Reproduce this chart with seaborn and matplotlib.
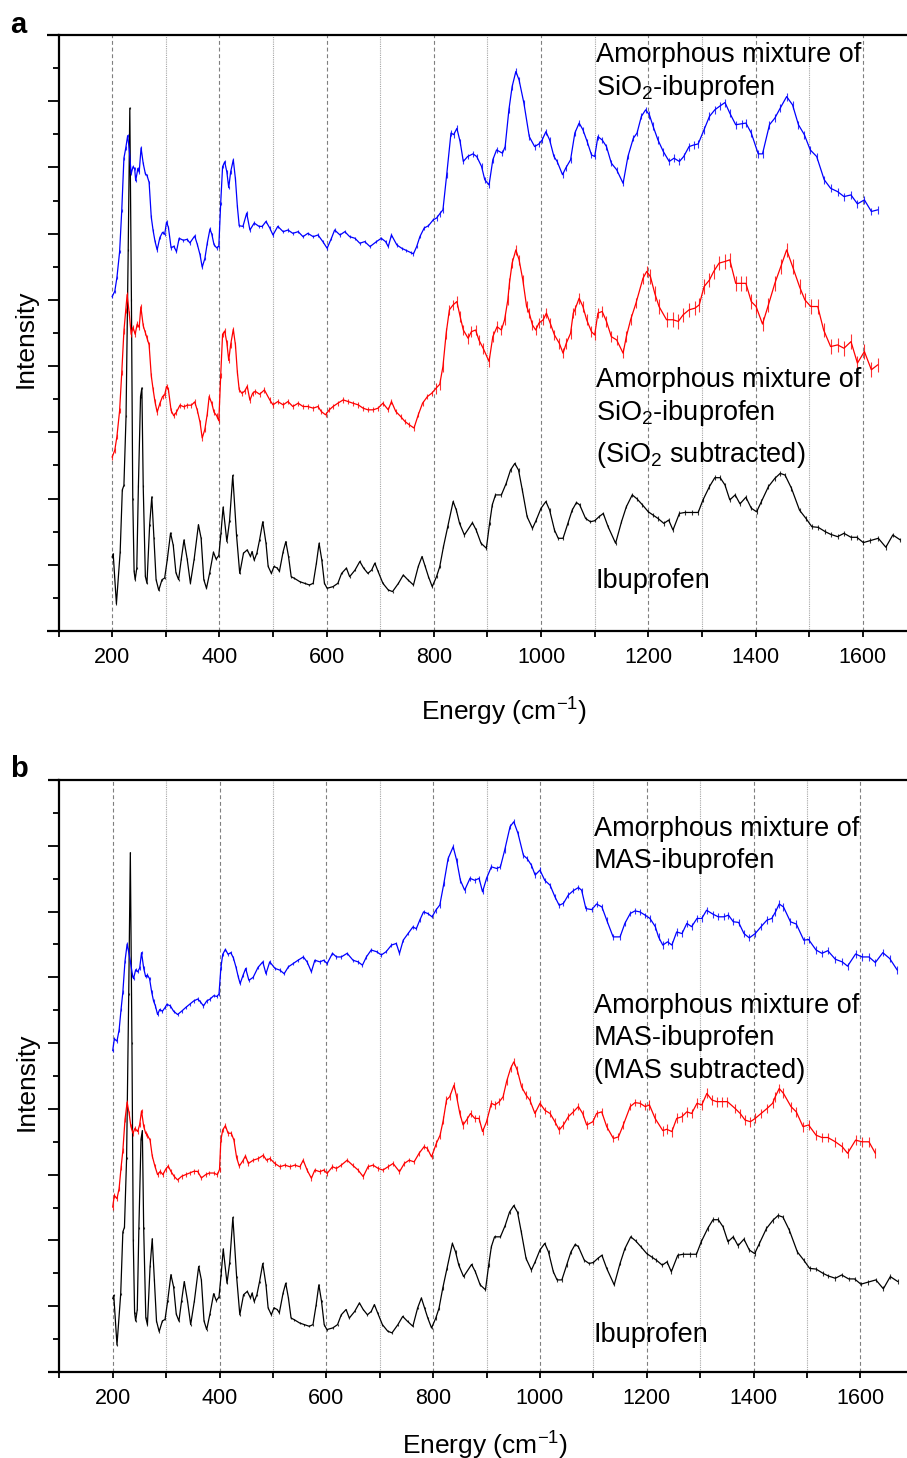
import numpy as np
import matplotlib
matplotlib.use("Agg")
import matplotlib.pyplot as plt
from matplotlib.ticker import MultipleLocator, NullFormatter
import seaborn as sns

# ---- data (energy in cm^-1, intensity in plot units, curves already stacked) ----
ibu_energy = [200, 202, 208, 215, 219, 222, 226, 230, 233, 236, 238.5, 241, 243, 246, 249, 253, 255.5, 258, 262, 265,
              270, 274, 278, 282, 287, 293, 298, 303, 309, 314, 319, 324, 329, 334, 340, 346, 353, 361, 366, 371,
              376, 382, 389, 394, 399, 403, 407, 414, 419, 425, 432, 438, 445, 452, 458, 461, 465, 470, 475, 481,
              487, 491, 497, 502, 508, 512, 519, 524, 529, 534, 540, 550, 559, 568, 575, 581, 586, 591, 596, 601,
              612, 621, 628, 637, 643, 653, 662, 669, 677, 684, 690, 696, 705, 715, 723, 734, 743, 752, 762, 771,
              778, 784, 790, 797, 805, 811, 818, 826, 836, 842, 848, 857, 872, 879, 888, 898, 904, 909, 915, 926,
              935, 943, 951, 958, 965, 974, 984, 991, 1000, 1009, 1016, 1025, 1032, 1041, 1050, 1058, 1066, 1072,
              1083, 1092, 1100, 1108, 1116, 1125, 1139, 1150, 1159, 1170, 1179, 1189, 1200, 1209, 1218, 1229, 1238,
              1246, 1258, 1268, 1281, 1293, 1302, 1314, 1324, 1334, 1343, 1352, 1362, 1371, 1382, 1392, 1402, 1411,
              1424, 1436, 1446, 1455, 1467, 1482, 1494, 1505, 1517, 1530, 1540, 1553, 1565, 1578, 1589, 1601, 1614,
              1629, 1643, 1656, 1670]
ibu_intensity = [2.23, 2.33, 0.82, 2.38, 4.26, 4.4, 6.5, 11.5, 15.79, 10.0, 4.0, 1.8, 1.55, 1.9, 4.37, 7.08, 7.34, 4.37,
                 1.65, 1.44, 3.21, 4.05, 2.80, 1.55, 1.23, 1.55, 1.60, 2.17, 2.96, 2.59, 1.76, 1.55, 2.17, 2.75, 2.17,
                 1.44, 2.17, 3.21, 2.80, 1.55, 1.29, 1.76, 2.38, 2.17, 2.28, 2.96, 3.74, 2.70, 3.32, 4.70, 2.90, 1.74,
                 2.35, 2.45, 2.25, 2.40, 2.14, 2.35, 2.75, 3.30, 2.65, 1.95, 1.74, 1.95, 1.90, 1.80, 2.40, 2.70, 2.25,
                 1.64, 1.59, 1.49, 1.44, 1.39, 1.44, 2.05, 2.65, 2.15, 1.44, 1.29, 1.34, 1.44, 1.74, 1.90, 1.64, 1.84,
                 2.10, 1.90, 1.74, 1.84, 2.05, 1.80, 1.44, 1.24, 1.19, 1.44, 1.69, 1.54, 1.39, 1.95, 2.25, 1.95, 1.64,
                 1.34, 1.64, 1.94, 2.55, 3.15, 3.91, 3.65, 3.25, 2.90, 3.27, 3.05, 2.65, 2.50, 3.25, 3.81, 4.11, 4.11,
                 4.46, 4.86, 5.06, 4.86, 4.26, 3.45, 3.10, 3.35, 3.71, 3.91, 3.65, 3.05, 2.80, 2.80, 3.25, 3.65, 3.88,
                 3.81, 3.40, 3.30, 3.33, 3.45, 3.55, 3.15, 2.65, 3.30, 3.75, 4.11, 3.99, 3.81, 3.60, 3.50, 3.40, 3.25,
                 3.35, 3.05, 3.55, 3.58, 3.58, 3.58, 3.96, 4.36, 4.63, 4.63, 4.41, 3.96, 4.11, 3.84, 4.04, 3.71, 3.60,
                 3.91, 4.36, 4.61, 4.76, 4.71, 4.31, 3.65, 3.40, 3.15, 3.13, 3.00, 2.92, 2.85, 2.95, 2.83, 2.83, 2.67,
                 2.73, 2.80, 2.53, 2.90, 2.75]

sio2_energy = [200, 205, 209, 214, 218, 222, 225.5, 229, 232, 235.5, 239, 242, 244, 248, 250.5, 254, 258, 262, 265, 269,
               273, 276.5, 280, 284, 289, 294, 298, 301.5, 305, 310, 315, 320, 325, 333, 340, 345, 354, 359, 364, 368,
               373, 377.5, 382.5, 386, 390, 395, 399, 402.5, 406, 410, 414, 417.5, 421, 426, 430, 433.6, 437, 444,
               451, 457, 465, 474, 480, 487, 494, 500, 509, 519, 528, 537, 547, 556, 565, 575, 584, 593, 601, 609,
               615, 625, 634, 643, 653, 662, 671, 681, 693, 702, 710, 715, 721, 731, 740, 749, 757, 762, 768, 774,
               782, 790, 799, 805, 811, 817, 824, 832, 837, 843, 849, 855, 863, 873, 880, 889, 895, 903, 910, 917,
               928, 933, 940, 946, 953, 959, 968, 978, 988, 996, 1002, 1009, 1016, 1024, 1030, 1040, 1046, 1055,
               1063, 1071, 1078, 1086, 1094, 1100, 1106, 1114, 1122, 1131, 1141, 1153, 1162, 1172, 1179, 1187, 1195,
               1202, 1209, 1218, 1228, 1239, 1248, 1258, 1266, 1276, 1285, 1293, 1304, 1314, 1324, 1334, 1343, 1352,
               1363, 1374, 1382, 1392, 1405, 1413, 1426, 1436, 1446, 1458, 1469, 1480, 1491, 1502, 1514, 1528, 1540,
               1553, 1565, 1578, 1590, 1603, 1616, 1628]
sio2_mix = [10.10, 10.26, 10.68, 11.46, 12.71, 14.28, 14.59, 14.96, 14.54, 13.81, 14.02, 13.97, 13.60, 13.97, 13.86,
            14.59, 14.12, 13.81, 13.76, 13.55, 12.50, 12.09, 11.77, 11.51, 11.88, 12.04, 11.98, 12.35, 12.19, 11.57,
            11.62, 11.46, 11.86, 11.80, 11.83, 11.72, 11.93, 11.67, 11.36, 10.99, 11.25, 11.72, 12.14, 11.98, 11.67,
            11.57, 11.62, 12.92, 14.02, 14.17, 13.86, 13.39, 13.86, 14.23, 13.65, 12.82, 12.24, 12.22, 12.62, 12.11,
            12.32, 12.22, 12.22, 12.37, 12.17, 11.96, 12.22, 12.06, 12.11, 12.01, 12.06, 11.91, 12.01, 11.91, 11.96,
            11.76, 11.56, 11.86, 12.11, 11.96, 12.06, 11.91, 11.86, 11.71, 11.76, 11.61, 11.76, 11.86, 11.76, 11.61,
            11.96, 11.66, 11.56, 11.49, 11.43, 11.39, 11.61, 11.91, 12.17, 12.24, 12.42, 12.47, 12.60, 12.72, 13.78,
            15.04, 14.99, 15.18, 14.78, 14.18, 14.33, 14.41, 14.33, 14.03, 13.63, 13.47, 14.23, 14.53, 14.43, 14.63,
            15.74, 16.44, 16.90, 16.64, 15.94, 14.93, 14.63, 14.71, 14.83, 15.08, 14.83, 14.33, 14.18, 13.78, 13.98,
            14.23, 15.04, 15.34, 15.14, 14.78, 14.38, 14.33, 14.93, 14.83, 14.63, 14.13, 13.93, 13.52, 14.33, 14.88,
            15.04, 15.54, 15.74, 15.59, 15.24, 14.83, 14.48, 14.18, 14.28, 14.18, 14.33, 14.63, 14.68, 14.71, 15.14,
            15.54, 15.74, 15.86, 15.96, 15.64, 15.29, 15.32, 15.34, 15.04, 14.41, 14.41, 15.29, 15.49, 15.79, 16.14,
            15.89, 15.29, 14.99, 14.53, 14.33, 13.63, 13.37, 13.27, 13.12, 13.17, 12.90, 13.02, 12.67, 12.72]

sio2_sub_energy = [200, 205, 209, 214, 218, 222, 225.5, 228, 232, 235.5, 239, 243, 246.7, 250.5, 253.6, 258, 262, 265,
                   269, 273, 276.5, 280, 284, 289, 294, 298, 301.5, 305, 310, 315, 320, 326.5, 334, 340, 348, 354, 359,
                   364, 368, 373, 377.5, 381, 386, 390, 395, 399, 402.5, 406, 410, 414, 417.5, 421, 426, 430, 433.6,
                   437, 442, 447, 452, 457, 462, 467, 475, 484, 494, 500, 509, 519, 528, 537, 547, 556, 565, 575, 584,
                   590, 598, 605, 612, 621, 631, 640, 649, 659, 668, 677, 687, 696, 705, 715, 721, 729, 738, 746, 754,
                   763, 771, 779, 788, 796, 804, 811, 817, 823, 829, 836, 843, 849, 855, 864, 870, 878, 884, 892, 903,
                   910, 918, 926, 932, 938, 941, 946, 953, 959, 966, 973, 978, 984, 990, 996, 1004, 1010, 1017, 1025,
                   1034, 1041, 1047, 1055, 1060, 1063, 1071, 1078, 1085, 1094, 1100, 1106, 1114, 1122, 1131, 1141,
                   1153, 1159, 1167, 1177, 1190, 1197, 1204, 1212, 1220, 1234, 1246, 1256, 1265, 1276, 1287, 1295,
                   1304, 1314, 1322, 1332, 1343, 1352, 1363, 1373, 1382, 1392, 1401, 1413, 1424, 1436, 1447, 1458,
                   1469, 1482, 1492, 1503, 1516, 1527, 1540, 1553, 1565, 1578, 1590, 1603, 1616, 1628]
sio2_sub = [5.25, 5.46, 5.88, 6.66, 7.81, 9.06, 9.69, 10.16, 9.58, 8.96, 9.17, 8.96, 9.27, 9.17, 9.79, 9.22, 9.01, 8.85,
            8.64, 7.71, 7.29, 6.92, 6.61, 6.87, 7.08, 7.13, 7.39, 7.29, 6.66, 6.50, 6.61, 6.82, 6.77, 6.82, 6.82, 6.92,
            6.66, 6.30, 5.83, 6.09, 6.56, 7.08, 6.87, 6.61, 6.50, 6.35, 7.71, 8.96, 9.06, 8.70, 8.17, 8.64, 9.11, 8.64,
            7.81, 7.29, 7.18, 7.24, 7.39, 6.97, 7.18, 7.24, 7.15, 7.28, 6.98, 6.83, 6.93, 6.83, 6.93, 6.78, 6.88, 6.78,
            6.78, 6.73, 6.78, 6.63, 6.53, 6.68, 6.78, 6.88, 6.98, 6.93, 6.88, 6.83, 6.73, 6.68, 6.68, 6.73, 6.88, 6.68,
            6.93, 6.63, 6.48, 6.33, 6.23, 6.13, 6.53, 6.88, 7.08, 7.18, 7.33, 7.45, 7.99, 8.99, 9.70, 9.85, 9.95, 9.50,
            9.09, 8.84, 9.04, 9.09, 8.79, 8.54, 8.14, 8.89, 9.19, 9.09, 9.40, 10.0, 10.50, 11.11, 11.51, 11.21, 10.60,
            9.80, 9.60, 9.24, 9.09, 9.30, 9.40, 9.60, 9.30, 8.94, 8.69, 8.39, 8.69, 8.99, 9.60, 9.70, 10.05, 9.80,
            9.40, 9.04, 8.94, 9.60, 9.65, 9.35, 8.89, 8.79, 8.39, 8.89, 9.40, 9.90, 10.65, 10.86, 10.70, 10.20, 9.80,
            9.40, 9.40, 9.35, 9.55, 9.70, 9.75, 9.85, 10.40, 10.60, 10.86, 11.11, 11.16, 11.21, 10.50, 10.50, 10.50,
            9.95, 9.80, 9.27, 9.85, 10.50, 11.00, 11.51, 11.01, 10.40, 10.00, 9.80, 9.80, 9.09, 8.59, 8.64, 8.54, 8.74,
            8.09, 8.44, 7.89, 8.04]

mas_energy = [200, 203, 208, 212, 215.6, 219, 223, 227, 229, 233, 237, 239, 243, 246.7, 250.5, 254, 258, 261.7, 265,
              269, 273, 276.5, 280, 284, 288, 293, 298, 301.5, 308, 314, 321.5, 329, 336.5, 344, 351.5, 359, 364, 370,
              376, 382.5, 389, 395, 399, 402.5, 406, 411, 416, 421, 426, 431, 435, 438.6, 444, 449, 455, 463, 472,
              481, 487, 494, 504, 513, 521, 529, 538, 547, 557, 564, 572, 578.5, 588, 595, 601.5, 611.5, 619, 628,
              639, 650, 659.5, 667.6, 675, 684, 694, 703, 712, 722, 731, 737, 744, 753, 762, 768.5, 775, 782, 790,
              798, 805, 812.5, 820, 828, 837.5, 844, 851, 859, 869, 878, 886, 892.5, 900, 909, 919, 926, 934, 944,
              951, 959, 969, 976, 984, 991, 1000, 1009, 1019, 1028, 1036, 1044, 1053, 1062, 1072, 1078, 1086, 1097,
              1106, 1116, 1125, 1137, 1150, 1159, 1169, 1178, 1187, 1197, 1206, 1216, 1222, 1230, 1239, 1247, 1256,
              1266, 1275, 1284, 1294, 1303, 1312, 1324, 1334, 1344, 1353, 1362, 1372, 1382, 1392, 1403, 1414, 1425,
              1434, 1441, 1448, 1456, 1469, 1480, 1494, 1503, 1517, 1528, 1539, 1553, 1566, 1576, 1591, 1603, 1616,
              1628, 1642, 1655, 1669]
mas_mix = [9.77, 10.13, 10.06, 10.40, 11.02, 11.55, 12.49, 13.01, 12.85, 12.49, 12.07, 11.96, 12.23, 12.17, 12.28, 12.75,
           12.28, 12.02, 12.07, 11.96, 11.55, 11.28, 11.13, 10.87, 11.02, 10.97, 11.08, 11.18, 11.13, 10.97, 10.87,
           10.97, 11.08, 11.18, 11.28, 11.34, 11.26, 11.13, 11.28, 11.34, 11.44, 11.42, 11.49, 12.28, 12.70, 12.85,
           12.70, 12.75, 12.59, 12.30, 12.02, 11.81, 12.06, 12.27, 11.91, 12.00, 12.30, 12.47, 12.11, 12.47, 12.27,
           12.22, 12.11, 12.32, 12.42, 12.52, 12.62, 12.47, 12.17, 12.52, 12.47, 12.52, 12.42, 12.73, 12.62, 12.62,
           12.73, 12.52, 12.47, 12.37, 12.62, 12.83, 12.78, 12.68, 12.78, 12.98, 13.03, 12.73, 13.13, 13.33, 13.53,
           13.48, 13.74, 13.99, 13.94, 13.84, 14.04, 14.20, 14.85, 15.61, 15.97, 15.56, 14.95, 14.65, 15.01, 14.95,
           15.01, 14.60, 15.01, 15.36, 15.31, 15.36, 15.87, 16.58, 16.73, 16.37, 15.71, 15.61, 15.41, 15.11, 15.26,
           14.95, 14.80, 14.45, 14.19, 14.25, 14.50, 14.63, 14.73, 14.65, 14.09, 14.06, 14.23, 14.14, 13.74, 13.23,
           13.23, 13.64, 13.94, 14.02, 13.99, 13.89, 13.79, 13.54, 13.23, 12.98, 13.08, 12.98, 13.38, 13.33, 13.64,
           13.54, 13.79, 13.79, 14.04, 13.92, 13.84, 13.84, 13.89, 13.69, 13.67, 13.33, 13.20, 13.33, 13.54, 13.74,
           13.79, 13.99, 14.23, 14.14, 13.69, 13.62, 13.13, 13.15, 12.83, 12.73, 12.81, 12.55, 12.47, 12.34, 12.71,
           12.62, 12.62, 12.45, 12.75, 12.57, 12.22]

mas_sub_energy = [200, 203, 208, 212, 215.6, 219, 223, 227, 230.6, 234, 238, 241.7, 246.7, 250.5, 254, 258, 261.7, 265,
                  270, 274, 279, 284, 289, 294, 299, 304, 309, 315, 321.5, 329, 336.5, 344, 351.5, 359, 366, 374, 381,
                  389, 396, 400, 402.5, 406, 411, 416, 422, 427, 432, 437, 443.6, 448.6, 454, 463, 472.6, 482, 488,
                  494.4, 503.7, 513, 522.4, 532, 541, 550.5, 556.7, 564, 572, 578.5, 588, 595, 601.5, 611.5, 619, 628,
                  639, 649, 659.5, 669, 678, 687.5, 697, 706, 715.6, 725, 737, 746, 755, 764.4, 773.7, 783, 789, 797,
                  806, 813, 819, 825, 831, 839, 844, 850, 856, 862.5, 870, 878, 886, 892.5, 900, 909, 915.6, 924, 931,
                  937.5, 945, 951, 957.5, 965.6, 974, 981, 990.6, 1000, 1009, 1019, 1028, 1036, 1044, 1053, 1062.5,
                  1072, 1080, 1087.5, 1099, 1106, 1115.6, 1125, 1137.5, 1147, 1156, 1169, 1178, 1187.5, 1197, 1205,
                  1215.6, 1230, 1237.5, 1247, 1256, 1265.6, 1275, 1284, 1294, 1303, 1312.5, 1322, 1331, 1340.6, 1351,
                  1365.6, 1375, 1384, 1394, 1403, 1414, 1425, 1435.6, 1440.6, 1448, 1456, 1470, 1480, 1492.5, 1503,
                  1517, 1528, 1539, 1553, 1566, 1576, 1591, 1603, 1616, 1628]
mas_sub = [5.01, 5.37, 5.27, 5.58, 6.21, 6.73, 7.67, 8.20, 7.88, 7.47, 7.26, 7.41, 7.31, 7.52, 7.94, 7.47, 7.26, 7.20,
           7.05, 6.57, 6.26, 6.00, 6.10, 6.00, 6.16, 6.26, 6.10, 5.95, 5.84, 5.95, 6.00, 6.05, 6.10, 6.10, 5.90, 6.00,
           6.05, 6.05, 6.00, 6.16, 7.05, 7.36, 7.49, 7.26, 7.26, 7.05, 6.52, 6.26, 6.42, 6.57, 6.34, 6.44, 6.49, 6.59,
           6.44, 6.49, 6.34, 6.24, 6.29, 6.24, 6.29, 6.24, 6.44, 6.14, 5.89, 6.14, 6.09, 6.14, 6.04, 6.24, 6.19, 6.29,
           6.44, 6.29, 6.14, 5.94, 6.24, 6.29, 6.19, 6.14, 6.24, 6.34, 6.09, 6.34, 6.44, 6.39, 6.65, 6.85, 6.80, 6.54,
           6.95, 7.20, 7.66, 8.27, 8.37, 8.72, 8.37, 7.86, 7.51, 7.66, 7.86, 7.71, 7.71, 7.31, 7.61, 8.17, 8.12, 8.22,
           8.37, 8.83, 9.23, 9.43, 9.18, 8.67, 8.42, 8.27, 7.86, 8.17, 7.96, 7.86, 7.61, 7.36, 7.51, 7.76, 7.91, 8.07,
           7.86, 7.51, 7.61, 7.86, 7.91, 7.46, 7.10, 7.15, 7.51, 8.07, 8.19, 8.17, 8.07, 8.12, 7.71, 7.34, 7.38, 7.31,
           7.71, 7.76, 7.91, 7.86, 8.17, 8.12, 8.47, 8.27, 8.22, 8.22, 8.22, 8.01, 7.86, 7.66, 7.61, 7.71, 7.86, 8.01,
           8.17, 8.37, 8.62, 8.47, 8.07, 7.91, 7.46, 7.51, 7.20, 7.13, 7.13, 7.00, 6.85, 6.65, 7.05, 7.00, 7.00, 6.65]

# error bar half-heights read per energy band: <800, 800-1200, >1200
err_edges = [800, 1200]
err_ibu = [0.03, 0.05, 0.07]
err_sio2_mix = [0.05, 0.09, 0.12]
err_sio2_sub = [0.08, 0.16, 0.22]
err_mas_mix = [0.05, 0.08, 0.11]
err_mas_sub = [0.07, 0.11, 0.15]

labels_a = ["Amorphous mixture of", "SiO$_2$-ibuprofen",
            "Amorphous mixture of", "SiO$_2$-ibuprofen", "(SiO$_2$ subtracted)", "Ibuprofen"]
labels_b = ["Amorphous mixture of", "MAS-ibuprofen",
            "Amorphous mixture of", "MAS-ibuprofen", "(MAS subtracted)", "Ibuprofen"]

sns.set_style("ticks")
plt.rcParams["font.family"] = ["Liberation Sans", "DejaVu Sans"]
plt.rcParams["mathtext.default"] = "regular"
plt.rcParams["text.color"] = "black"
plt.rcParams["axes.labelcolor"] = "black"
plt.rcParams["xtick.color"] = "black"
plt.rcParams["ytick.color"] = "black"
plt.rcParams["xtick.labelcolor"] = "black"

W, H = 907, 1458
fig = plt.figure(figsize=(W / 100, H / 100), dpi=100)


def band_err(energy, levels):
    idx = np.searchsorted(err_edges, energy)
    return np.asarray(levels)[idx]


def draw_curve(ax, energy, values, levels, color):
    energy = np.asarray(energy)
    values = np.asarray(values)
    sns.lineplot(x=energy, y=values, ax=ax, color=color, lw=0.9, sort=False, estimator=None)
    ax.errorbar(energy, values, yerr=band_err(energy, levels), fmt="none", ecolor=color,
                elinewidth=0.8, capsize=0, alpha=0.8)


def style_axes(ax):
    ax.set_xlim(100, 1700)
    ax.set_ylim(0, 18)
    ax.xaxis.set_major_locator(MultipleLocator(200))
    ax.xaxis.set_minor_locator(MultipleLocator(100))
    ax.yaxis.set_major_locator(MultipleLocator(2))
    ax.yaxis.set_minor_locator(MultipleLocator(1))
    ax.yaxis.set_major_formatter(NullFormatter())
    ax.tick_params(axis="x", which="both", direction="out", length=4.5, width=1.3,
                   labelsize=15.5, pad=7, colors="black")
    ax.tick_params(axis="y", which="major", direction="out", length=8, width=1.3, colors="black")
    ax.tick_params(axis="y", which="minor", direction="out", length=4.5, width=1.3, colors="black")
    for side in ["left", "bottom", "top", "right"]:
        ax.spines[side].set_linewidth(1.6)
        ax.spines[side].set_color("black")
    ax.grid(False)
    ax.set_axisbelow(True)
    for xv in range(200, 1700, 100):
        if xv % 200 == 0:
            ax.axvline(xv, color="#7f7f7f", lw=0.8, ls=(0, (3.5, 2.5)), zorder=0)
        else:
            ax.axvline(xv, color="#a6a6a6", lw=0.8, ls=(0, (1, 1)), zorder=0)
    # axis lines reach a little past the left spine
    for yv in (0, 1):
        ax.plot([-0.013, 0], [yv, yv], transform=ax.transAxes, color="black", lw=1.6,
                clip_on=False, solid_capstyle="butt")
    ax.set_ylabel("Intensity", fontsize=19, color="black")


# ---- panel a ----
ax_a = fig.add_axes([58.5 / W, 1 - 631 / H, (916.4 - 58.5) / W, 596 / H])
draw_curve(ax_a, ibu_energy, ibu_intensity, err_ibu, "black")
draw_curve(ax_a, sio2_sub_energy, sio2_sub, err_sio2_sub, "#ff0000")
draw_curve(ax_a, sio2_energy, sio2_mix, err_sio2_mix, "#0000ff")
style_axes(ax_a)
ax_a.set_xlabel("Energy (cm$^{-1}$)", fontsize=19, color="black")
ax_a.xaxis.set_label_coords(0.519, -0.108)
ax_a.yaxis.set_label_coords(-0.024, 0.49)

# ---- panel b ----
ax_b = fig.add_axes([59.3 / W, 1 - 1372 / H, (913.8 - 59.3) / W, 592 / H])
draw_curve(ax_b, ibu_energy, ibu_intensity, err_ibu, "black")
draw_curve(ax_b, mas_sub_energy, mas_sub, err_mas_sub, "#ff0000")
draw_curve(ax_b, mas_energy, mas_mix, err_mas_mix, "#0000ff")
style_axes(ax_b)
ax_b.set_xlabel("Energy (cm$^{-1}$)", fontsize=19, color="black")
ax_b.xaxis.set_label_coords(0.498, -0.098)
ax_b.yaxis.set_label_coords(-0.024, 0.49)

# ---- annotations ----
for text, y in zip(labels_a, [62, 95, 387, 420, 462, 588]):
    fig.text(596 / W, 1 - y / H, text, fontsize=19.5, va="baseline", ha="left", color="black")
for text, y in zip(labels_b, [836, 868, 1013, 1045, 1078, 1342]):
    fig.text(594 / W, 1 - y / H, text, fontsize=19.5, va="baseline", ha="left", color="black")

fig.text(10 / W, 1 - 33 / H, "a", fontsize=21, fontweight="bold", va="baseline", color="black")
fig.text(10 / W, 1 - 777 / H, "b", fontsize=21, fontweight="bold", va="baseline", color="black")

fig.savefig("out.png", dpi=100)
